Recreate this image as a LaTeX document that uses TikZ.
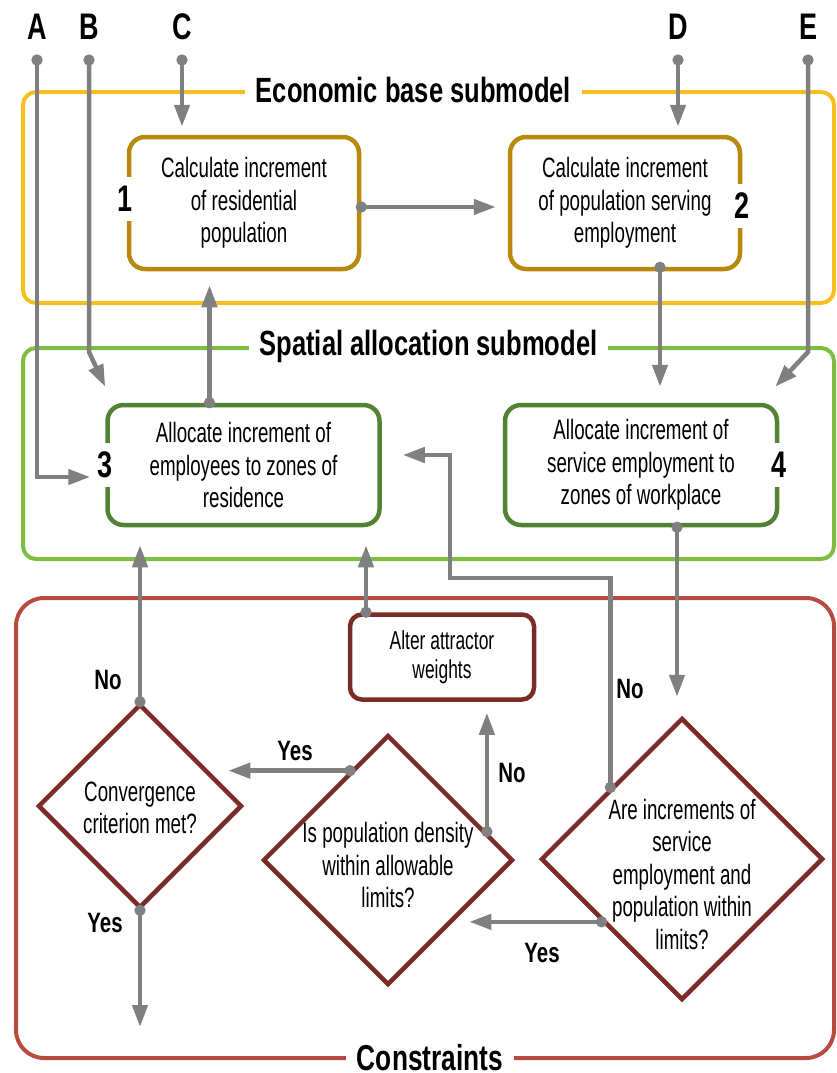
\documentclass[tikz,border=0pt]{standalone}
\usepackage{fontspec}
\setmainfont{Liberation Sans}[FakeStretch=0.67,BoldFeatures={FakeStretch=0.73}]
\usetikzlibrary{positioning,shapes.geometric,arrows.meta}
\definecolor{lineGray}{RGB}{128,128,128}
\definecolor{econFrame}{RGB}{246,191,32}
\definecolor{econBox}{RGB}{185,137,12}
\definecolor{spatialFrame}{RGB}{124,189,66}
\definecolor{spatialBox}{RGB}{84,130,52}
\definecolor{constraintFrame}{RGB}{183,76,62}
\definecolor{constraintBox}{RGB}{123,44,38}
\newcommand{\bodyFont}{\fontsize{28}{32.5}\selectfont}
\newcommand{\smallBodyFont}{\fontsize{26}{29}\selectfont}
\newcommand{\titleFont}{\bfseries\fontsize{35}{40}\selectfont}
\newcommand{\letterFont}{\bfseries\fontsize{37}{42}\selectfont}
\newcommand{\answerFont}{\bfseries\fontsize{28}{32}\selectfont}
% text of a check, lowered by #1 inside its diamond
\newcommand{\decisionLines}[2]{\makebox[0pt]{\raisebox{-#1}[0pt][0pt]{\begin{tabular}{@{}c@{}}#2\end{tabular}}}}
\tikzstyle{plan} = [x=1pt, y=-1pt]
\tikzstyle{frameBox} = [draw, line width=4pt, rounded corners=13pt, inner sep=0pt]
\tikzstyle{frameTitle} = [fill=white, inner xsep=11pt, inner ysep=1pt, font=\titleFont]
\tikzstyle{processBox} = [draw, fill=white, line width=4.5pt, rounded corners=16pt, align=center, inner sep=0pt, font=\bodyFont]
\tikzstyle{decisionBox} = [draw=constraintBox, fill=white, diamond, aspect=1, line width=4.5pt, inner sep=0pt, font=\bodyFont]
\tikzstyle{boxNumber} = [fill=white, inner xsep=1pt, inner ysep=9pt, font=\letterFont]
\tikzstyle{inputLetter} = [font=\letterFont]
\tikzstyle{answer} = [font=\answerFont]
\tikzstyle{flowArrow} = [draw=lineGray, line width=4.5pt, -{Triangle[length=22pt,width=15pt]}]
\tikzstyle{dotFlow} = [flowArrow, {Circle[length=11pt]}-{Triangle[length=22pt,width=15pt]}, shorten <=-5.5pt]

\begin{document}
\begin{tikzpicture}[plan]
  \useasboundingbox (0,0) rectangle (836,1073);

  % submodel frames
  \node[frameBox, draw=econFrame, minimum width=811pt, minimum height=211pt] (econ) at (428.5,197.5) {};
  \node[frameBox, draw=spatialFrame, minimum width=811pt, minimum height=211pt] (spatial) at (428.5,453.5) {};
  \node[frameBox, draw=constraintFrame, rounded corners=28pt, minimum width=818pt, minimum height=460pt] (constraints) at (425,828) {};
  \node[frameTitle] (econTitle) at ([xshift=-15pt]econ.north) {Economic base submodel};
  \node[frameTitle] (spatialTitle) at (spatial.north) {Spatial allocation submodel};
  \node[frameTitle, inner ysep=0pt, font=\bfseries\fontsize{36}{40}\selectfont] (constraintsTitle) at ([xshift=5pt,yshift=2pt]constraints.south) {Constraints};

  % steps
  \node[processBox, draw=econBox, minimum width=230pt, minimum height=132pt] (step1) at (244,203) {Calculate increment\\of residential\\population};
  \node[processBox, draw=econBox, minimum width=230pt, minimum height=132pt] (step2) at (625,203) {Calculate increment\\of population serving\\employment};
  \node[processBox, draw=spatialBox, minimum width=272pt, minimum height=120pt] (step3) at (243.5,465) {Allocate increment of\\employees to zones of\\residence};
  \node[processBox, draw=spatialBox, minimum width=272pt, minimum height=120pt] (step4) at (641,465) {Allocate increment of\\service employment to\\zones of workplace};
  \node[processBox, draw=constraintBox, font=\smallBodyFont, rounded corners=12pt, minimum width=184pt, minimum height=85pt] (alter) at (442,657) {Alter attractor\\weights};

  \node[boxNumber] (num1) at ([xshift=-2pt,yshift=4pt]step1.west) {1};
  \node[boxNumber] (num2) at ([yshift=-3pt]step2.east) {2};
  \node[boxNumber] (num3) at (step3.west) {3};
  \node[boxNumber] (num4) at (step4.east) {4};

  % checks
  \node[decisionBox, minimum width=204pt, minimum height=204pt] (convCheck) at (140,806) {\decisionLines{11pt}{Convergence\\criterion met?}};
  \node[decisionBox, minimum width=250pt, minimum height=250pt] (popCheck) at (388,860) {\decisionLines{15pt}{Is population density\\within allowable\\limits?}};
  \node[decisionBox, minimum width=282pt, minimum height=282pt] (areCheck) at (682,859) {\decisionLines{25pt}{Are increments of\\service\\employment and\\population within\\limits?}};

  % inputs
  \foreach \name/\x in {A/37,B/89,C/182,D/678,E/808}
    \node[inputLetter] (in\name) at (\x,27) {\name};
  \coordinate (dotRow) at (0,60);
  \coordinate (bend) at (450,578);
  \coordinate (finish) at (140,1027);

  \draw[dotFlow] (inA |- dotRow) |- ([xshift=-15pt,yshift=-12pt]step3.west);
  \draw[dotFlow] (inB |- dotRow) -- ++(0,292) -- ([yshift=16pt]step3.north west);
  \draw[dotFlow] (inC |- dotRow) -- ([yshift=8pt]inC |- step1.north);
  \draw[dotFlow] (inD |- dotRow) -- ([yshift=8pt]inD |- step2.north);
  \draw[dotFlow] (inE |- dotRow) -- ++(0,292) -- ([xshift=-4pt,yshift=16pt]step4.north east);

  \draw[dotFlow] ([yshift=-4pt]step1.east) -- ([xshift=-12pt,yshift=-4pt]step2.west);
  \draw[dotFlow] ([xshift=35pt,yshift=4pt]step2.south) -- ([xshift=35pt,yshift=16pt]step2.south |- step4.north);
  \draw[dotFlow] ([xshift=-34pt]step3.north) -- ([xshift=-34pt,yshift=-14pt]step3.north |- step1.south);
  \draw[dotFlow] ([xshift=36pt]step4.south) -- ([xshift=36pt,yshift=19pt]step4.south |- areCheck.north);
  \draw[dotFlow] ([xshift=-76pt]alter.north) -- ([xshift=-76pt,yshift=-18pt]alter.north |- step3.south);

  \draw[dotFlow] (convCheck.north) -- ([yshift=-18pt]convCheck.north |- step3.south);
  \draw[dotFlow] (convCheck.south) -- (convCheck.south |- finish);
  \draw[dotFlow] (popCheck.113) -- ([xshift=-16pt]popCheck.113 -| convCheck.east);
  \draw[dotFlow] (popCheck.16) -- ([yshift=-11pt]popCheck.16 |- alter.south);
  \draw[dotFlow] (areCheck.135) |- (bend) |- ([xshift=21pt,yshift=10pt]step3.east);
  \draw[dotFlow] (areCheck.218) -- ([xshift=-46pt]areCheck.218 -| popCheck.east);

  % answers
  \node[answer] (convNo) at (108,680) {No};
  \node[answer] (convYes) at (105,923) {Yes};
  \node[answer] (popYes) at (295,751) {Yes};
  \node[answer] (popNo) at (512,773) {No};
  \node[answer] (areNo) at (630,689) {No};
  \node[answer] (areYes) at (542,953) {Yes};
\end{tikzpicture}
\end{document}
